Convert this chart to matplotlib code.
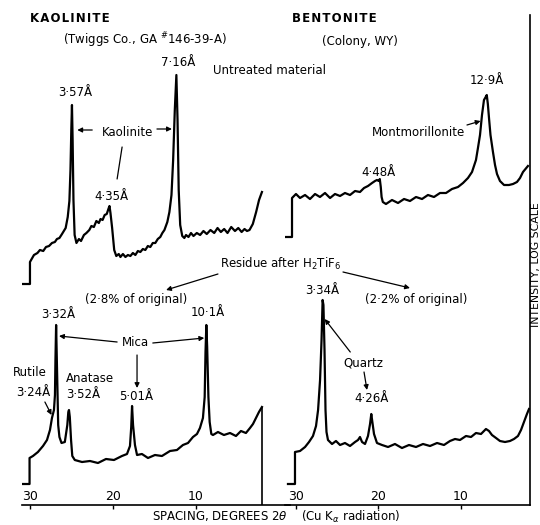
import matplotlib
matplotlib.use('Agg')
import matplotlib.pyplot as plt
from matplotlib import font_manager

names = {f.name for f in font_manager.fontManager.ttflist}
FONT = 'Liberation Sans Narrow' if 'Liberation Sans Narrow' in names else 'DejaVu Sans'
plt.rcParams['font.family'] = [FONT, 'DejaVu Sans']
plt.rcParams['mathtext.fontset'] = 'custom'
plt.rcParams['mathtext.rm'] = FONT
plt.rcParams['mathtext.it'] = FONT + ':italic'
plt.rcParams['mathtext.bf'] = FONT + ':bold'

# ---------------- data: 2-theta (degrees) and relative log intensity ----------------
kao_untreated_2theta = [30.84, 30.00, 30.00, 29.52, 29.10, 28.80, 28.40, 28.07, 27.70, 27.35,
                        27.00, 26.75, 26.45, 26.14, 25.70, 25.45, 25.25, 25.12, 25.02, 24.94,
                        24.86, 24.76, 24.62, 24.40, 24.10, 23.85, 23.50, 23.20, 22.85, 22.60,
                        22.30, 22.00, 21.70, 21.50, 21.25, 21.00, 20.75, 20.55, 20.42, 20.30,
                        20.10, 19.85, 19.60, 19.30, 19.10, 18.80, 18.50, 18.20, 17.90, 17.60,
                        17.30, 17.00, 16.70, 16.40, 16.10, 15.80, 15.50, 15.20, 14.90, 14.60,
                        14.30, 14.05, 13.80, 13.45, 13.20, 12.95, 12.75, 12.55, 12.36, 12.22,
                        12.08, 11.90, 11.65, 11.40, 11.20, 10.90, 10.60, 10.30, 9.90, 9.50,
                        9.10, 8.70, 8.25, 7.80, 7.40, 7.00, 6.60, 6.20, 5.75, 5.30,
                        4.90, 4.50, 4.15, 3.85, 3.55, 3.15, 2.75, 2.40, 2.05]
kao_untreated_int = [213, 213, 235, 242, 244, 247, 246, 250, 251, 254,
                     255, 258, 259, 263, 269, 280, 296, 327, 367, 392,
                     357, 297, 262, 254, 258, 256, 262, 264, 267, 271,
                     270, 276, 274, 278, 277, 282, 283, 288, 291, 284,
                     269, 247, 241, 243, 240, 243, 240, 242, 241, 244,
                     242, 246, 245, 248, 247, 251, 250, 254, 254, 258,
                     260, 264, 267, 275, 285, 302, 337, 387, 422, 377,
                     307, 272, 261, 259, 262, 260, 264, 261, 264, 262,
                     266, 263, 267, 264, 269, 265, 268, 264, 270, 266,
                     269, 265, 268, 266, 267, 273, 285, 297, 305]

ben_untreated_2theta = [31.31, 30.46, 30.46, 29.98, 29.49, 28.88, 28.28, 27.67, 27.07, 26.46,
                        25.85, 25.25, 24.64, 24.04, 23.43, 22.82, 22.22, 21.73, 21.25, 20.76,
                        20.40, 20.16, 19.95, 19.82, 19.70, 19.60, 19.45, 19.07, 18.34, 17.61,
                        16.88, 16.16, 15.43, 14.70, 13.98, 13.25, 12.52, 11.79, 11.07, 10.34,
                        9.73, 9.13, 8.64, 8.16, 7.92, 7.67, 7.43, 7.19, 6.98, 6.85,
                        6.72, 6.58, 6.40, 6.10, 5.85, 5.61, 5.25, 4.76, 4.16, 3.67,
                        3.19, 2.82, 2.46, 1.86]
ben_untreated_int = [260, 260, 299, 303, 299, 302, 298, 303, 300, 304,
                     299, 303, 301, 304, 302, 306, 305, 309, 311, 314,
                     316, 317, 316, 318, 310, 300, 295, 293, 297, 294,
                     298, 296, 300, 298, 302, 300, 304, 304, 308, 310,
                     314, 319, 325, 337, 349, 362, 382, 397, 400, 402,
                     393, 379, 362, 345, 332, 323, 316, 312, 312, 313,
                     315, 319, 325, 331]

kao_residue_2theta = [30.96, 30.05, 30.05, 29.64, 29.04, 28.43, 27.95, 27.59, 27.35, 27.11,
                      26.99, 26.93, 26.85, 26.77, 26.60, 26.45, 26.20, 25.80, 25.50, 25.38,
                      25.30, 25.20, 25.05, 24.90, 24.60, 23.73, 22.77, 21.81, 20.84, 19.88,
                      18.92, 18.31, 17.95, 17.80, 17.70, 17.58, 17.35, 17.10, 16.51, 15.78,
                      14.94, 14.10, 13.13, 12.29, 11.57, 10.96, 10.36, 9.88, 9.52, 9.16,
                      8.95, 8.85, 8.75, 8.65, 8.50, 8.35, 8.15, 7.95, 7.35, 6.63,
                      5.90, 5.18, 4.58, 3.98, 3.49, 3.13, 2.77, 2.41, 2.05]
kao_residue_int = [13, 13, 39, 41, 45, 51, 57, 67, 79, 87,
                   102, 137, 172, 140, 72, 60, 54, 55, 72, 85,
                   87, 80, 57, 41, 37, 35, 36, 34, 38, 37,
                   41, 43, 51, 70, 91, 72, 52, 42, 43, 39,
                   42, 41, 46, 47, 52, 54, 60, 63, 69, 79,
                   100, 145, 172, 150, 100, 75, 63, 62, 65, 62,
                   64, 61, 66, 64, 69, 73, 79, 85, 90]

ben_residue_2theta = [30.95, 30.10, 30.10, 29.49, 28.88, 28.40, 27.92, 27.55, 27.30, 27.06,
                      26.88, 26.75, 26.65, 26.52, 26.40, 26.28, 26.10, 25.61, 25.13, 24.64,
                      24.04, 23.43, 22.82, 22.46, 22.22, 21.97, 21.61, 21.25, 21.00, 20.85,
                      20.72, 20.52, 20.16, 19.55, 18.82, 17.98, 17.13, 16.28, 15.43, 14.58,
                      13.73, 12.88, 12.04, 11.31, 10.70, 10.10, 9.37, 8.76, 8.16, 7.55,
                      6.95, 6.58, 6.22, 5.73, 5.25, 4.64, 4.04, 3.55, 3.07, 2.70,
                      2.34, 1.98, 1.73]
ben_residue_int = [13, 13, 45, 46, 50, 55, 61, 71, 87, 117,
                   157, 197, 192, 147, 87, 65, 57, 53, 56, 52,
                   54, 51, 55, 57, 60, 55, 53, 61, 73, 83,
                   75, 63, 54, 52, 50, 53, 49, 52, 50, 53,
                   51, 54, 52, 56, 58, 57, 61, 60, 64, 63,
                   68, 66, 62, 59, 56, 55, 56, 58, 61, 67,
                   75, 83, 88]

tick_positions = [30, 20, 10]
tick_labels = ['30', '20', '10']

# ---------------- layout ----------------
W, H = 540, 525
fig = plt.figure(figsize=(W / 100, H / 100), dpi=100)
B = 20 / H
HH = 490 / H
YLIM = (-8, 482)
axL = fig.add_axes([22 / W, B, 268 / W, HH])
axR = fig.add_axes([285 / W, B, 245 / W, HH])
axL.set_xlim(30.96, -1.33)
axR.set_xlim(31.31, 1.61)

LW = 1.6
for ax in (axL, axR):
    ax.set_ylim(*YLIM)
    ax.patch.set_alpha(0)
    ax.set_yticks([])
    ax.set_xticks(tick_positions)
    ax.set_xticklabels(tick_labels)
    ax.tick_params(axis='x', direction='out', length=3, width=1, pad=-14, labelsize=9)
    for s in ('left', 'top'):
        ax.spines[s].set_visible(False)
    ax.spines['bottom'].set_linewidth(1.2)
axL.spines['right'].set_visible(False)
axR.spines['right'].set_linewidth(1.2)

axL.plot(kao_untreated_2theta, kao_untreated_int, color='k', lw=LW)
axL.plot(kao_residue_2theta, kao_residue_int, color='k', lw=LW)
axL.vlines(kao_residue_2theta[-1], YLIM[0], kao_residue_int[-1], color='k', lw=1.2)
axR.plot(ben_untreated_2theta, ben_untreated_int, color='k', lw=LW)
axR.plot(ben_residue_2theta, ben_residue_int, color='k', lw=LW)

FS = 8.5
AP = dict(arrowstyle='-|>', lw=0.9, color='k', mutation_scale=7, shrinkA=0, shrinkB=0)

def txt(ax, x, y, s, ha='center', **kw):
    ax.text(x, y, s, ha=ha, va='center', fontsize=kw.pop('fs', FS), **kw)

def arrow(ax, x0, y0, x1, y1, style=None):
    p = dict(AP)
    if style:
        p['arrowstyle'] = style
    ax.annotate('', xy=(x1, y1), xytext=(x0, y0), arrowprops=p)

HS = '\u200a'
# Titles
txt(axL, 30.0, 479, HS.join('KAOLINITE'), ha='left', fontweight='bold', fs=8.5)
txt(axL, 26.0, 457, r'(Twiggs Co., GA $^{\#}$146-39-A)', ha='left')
txt(axR, 30.46, 479, HS.join('BENTONITE'), ha='left', fontweight='bold', fs=8.5)
txt(axR, 26.8, 456, '(Colony, WY)', ha='left')
txt(axL, 7.95, 427, 'Untreated material', ha='left')

# Upper-left labels
txt(axL, 24.6, 404, '3·57Å')
txt(axL, 12.2, 435, '7·16Å')
txt(axL, 18.3, 364, 'Kaolinite')
arrow(axL, 22.5, 367, 24.3, 367)
arrow(axL, 14.7, 368, 12.9, 368)
arrow(axL, 18.9, 350, 19.5, 318, style='-')
txt(axL, 20.2, 300, '4·35Å')

# Upper-right labels
txt(axR, 6.9, 417, '12·9Å')
txt(axR, 15.15, 364, 'Montmorillonite')
arrow(axR, 9.25, 372, 7.6, 376)
txt(axR, 20.0, 325, '4·48Å')

# Residue labels
txt(axL, 7.1, 233, r'Residue after H$_2$TiF$_6$', ha='left')
arrow(axL, 7.35, 223, 13.6, 207)
txt(axL, 17.2, 197, '(2·8% of original)')
arrow(axR, 24.28, 225, 16.16, 209)
txt(axR, 15.4, 197, '(2·2% of original)')

# Lower-left labels
txt(axL, 26.6, 182, '3·32Å')
txt(axL, 8.6, 184, '10·1Å')
txt(axL, 17.35, 154, 'Mica')
arrow(axL, 19.5, 155, 26.5, 161)
arrow(axL, 15.2, 154, 9.0, 159)
arrow(axL, 17.1, 142, 17.1, 109)
txt(axL, 30.0, 124, 'Rutile')
txt(axL, 29.6, 105, '3·24Å')
arrow(axL, 28.2, 95, 27.4, 82)
txt(axL, 25.66, 119, 'Anatase', ha='left')
txt(axL, 25.66, 102, '3·52Å', ha='left')
txt(axL, 17.2, 100, '5·01Å')

# Lower-right labels
txt(axR, 26.8, 207, '3·34Å')
txt(axR, 21.85, 134, 'Quartz')
arrow(axR, 23.4, 145, 26.5, 178)
arrow(axR, 21.73, 125, 21.37, 107)
txt(axR, 20.77, 98, '4·26Å')

fig.text(535.5 / W, 1 - 265 / H, 'INTENSITY, LOG SCALE', rotation=90,
         ha='center', va='center', fontsize=7.8)
fig.text(276 / W, 8 / H, r'SPACING, DEGREES 2$\theta$    (Cu K$_\alpha$ radiation)',
         ha='center', va='center', fontsize=8.5)

fig.savefig('out.png', dpi=100)
